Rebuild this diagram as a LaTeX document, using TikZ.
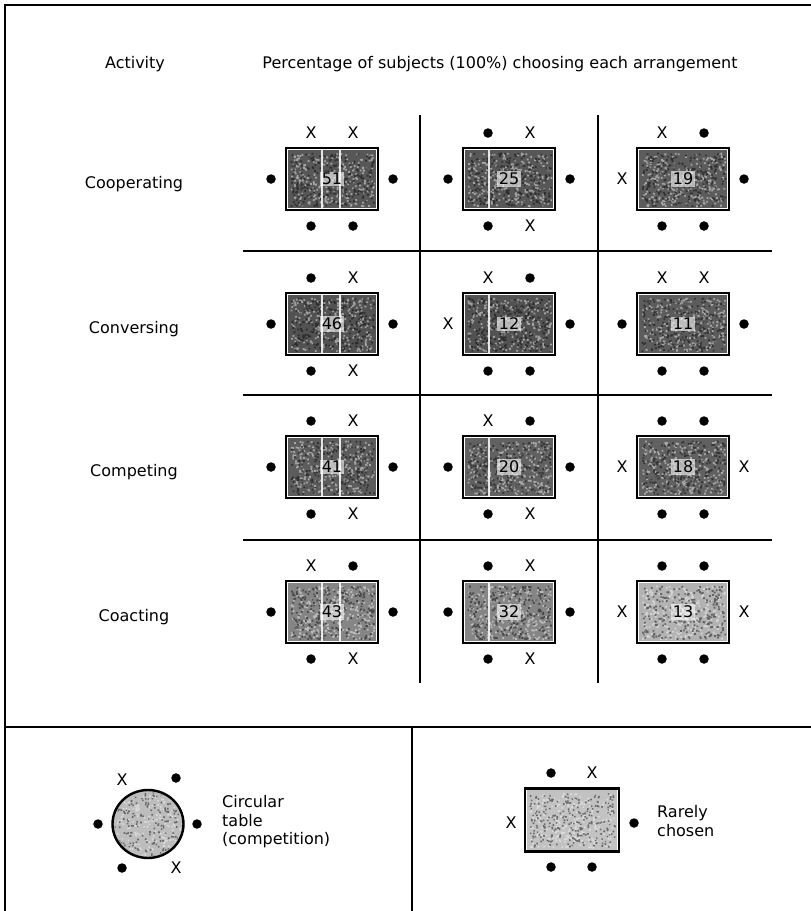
\documentclass[tikz,border=0pt]{standalone}
\usepackage{fontspec}
\setmainfont{DejaVu Sans}
\usetikzlibrary{shapes.geometric}
\begin{document}
\begin{tikzpicture}[x=1pt,y=-1pt,
  txt/.style={font=\fontsize{16}{18.5}\selectfont, inner sep=0pt},
  frame/.style={line width=2.8pt},
  gridline/.style={line width=1.6pt},
  tablebox/.style={draw, line width=2.6pt, fill=white, minimum width=92pt, minimum height=62pt, inner sep=0pt},
  stripe/.style={white, line width=2.4pt, opacity=0.85},
  lightspeck/.style={white, opacity=0.45},
  darkspeck/.style={black, opacity=0.45},
  numlbl/.style={txt, fill=white, fill opacity=0.6, text opacity=1, inner sep=1.5pt},
  seatX/.style={txt, node contents={X}},
  seatd/.style={circle, fill=black, inner sep=0pt, minimum size=9.5pt, node contents={}},
]
\pgfmathsetseed{4242}
\useasboundingbox (0,0) rectangle (811,911);
% outer frame and bottom partition
\draw[frame] (5,911) -- (5,5) -- (811,5);
\draw[frame] (5,727) -- (811,727);
\draw[gridline] (412,727) -- (412,911);

% headers
\node[txt, anchor=base] (activity) at (135,68) {Activity};
\node[txt, anchor=base] (percent) at (500,68) {Percentage of subjects (100\%) choosing each arrangement};

% grid
\draw[gridline] (420,115) -- (420,683);
\draw[gridline] (598,115) -- (598,683);
\foreach \yy in {251,395,540} \draw[gridline] (243,\yy) -- (772,\yy);

% row labels
\foreach \nm/\lab/\yy in {cooperating/Cooperating/179, conversing/Conversing/324, competing/Competing/467, coacting/Coacting/612}
  \node[txt, anchor=base] (\nm) at (134,\yy+9) {\lab};

% cells
\foreach \n/\k/\cx/\cy/\nr/\sh/\pa/\pb/\pc/\pd/\pe/\pf in {
  c11/1/332/179/51/66/X/X/d/d/d/d,
  c12/2/509/179/25/66/d/X/d/d/d/X,
  c13/3/683/179/19/64/X/d/X/d/d/d,
  c21/1/332/324/46/68/d/X/d/d/d/X,
  c22/2/509/324/12/68/X/d/X/d/d/d,
  c23/3/683/324/11/64/X/X/d/d/d/d,
  c31/1/332/467/41/64/d/X/d/d/d/X,
  c32/2/509/467/20/62/X/d/d/d/d/X,
  c33/3/683/467/18/62/d/d/X/X/d/d,
  c41/1/332/612/43/48/X/d/d/d/d/X,
  c42/2/509/612/32/48/d/X/d/d/d/X,
  c43/3/683/612/13/30/d/d/X/X/d/d}
{
  \node[tablebox] (\n) at (\cx,\cy) {};
  \fill[black!\sh] ([shift={(3,3)}]\n.north west) rectangle ([shift={(-3,-3)}]\n.south east);
  \fill[lightspeck] \foreach \i in {1,...,260} { (\cx+rand*41.5,\cy+rand*26.5) rectangle ++(1.8,1.8) };
  \fill[darkspeck] \foreach \i in {1,...,260} { (\cx+rand*41.5,\cy+rand*26.5) rectangle ++(1.8,1.8) };
  \ifnum\k=1
    \draw[stripe] ([xshift=-10pt,yshift=-3pt]\n.north) -- ([xshift=-10pt,yshift=3pt]\n.south);
    \draw[stripe] ([xshift=8pt,yshift=-3pt]\n.north) -- ([xshift=8pt,yshift=3pt]\n.south);
  \fi
  \ifnum\k=2
    \draw[stripe] ([xshift=-20pt,yshift=-3pt]\n.north) -- ([xshift=-20pt,yshift=3pt]\n.south);
  \fi
  \node[numlbl] (\n-num) at (\n.center) {\nr};
  \node (\n-tl) at (\cx-21,\cy-46) [seat\pa];
  \node (\n-tr) at (\cx+21,\cy-46) [seat\pb];
  \node (\n-l) at (\cx-61,\cy) [seat\pc];
  \node (\n-r) at (\cx+61,\cy) [seat\pd];
  \node (\n-bl) at (\cx-21,\cy+47) [seat\pe];
  \node (\n-br) at (\cx+21,\cy+47) [seat\pf];
}

% legend: circular table
\node[ellipse, draw, line width=2.4pt, fill=black!26, minimum width=71pt, minimum height=68pt, inner sep=0pt] (round) at (148,824) {};
\begin{scope}
  \clip (148,824) ellipse (33.5 and 32);
  \fill[lightspeck] \foreach \i in {1,...,200} { (148+rand*34,824+rand*33) rectangle ++(1.6,1.6) };
  \fill[darkspeck] \foreach \i in {1,...,200} { (148+rand*34,824+rand*33) rectangle ++(1.6,1.6) };
\end{scope}
\node (round-tl) at (122,780) [seatX];
\node (round-tr) at (176,778) [seatd];
\node (round-l) at (98,824) [seatd];
\node (round-r) at (197,824) [seatd];
\node (round-bl) at (122,868) [seatd];
\node (round-br) at (176,868) [seatX];
\node[txt, anchor=west, align=left] (roundtxt) at (222,822) {Circular\\table\\(competition)};

% legend: rarely chosen
\node[tablebox, minimum width=94pt, minimum height=63pt] (rare) at (572,820) {};
\fill[black!24] ([shift={(3,3)}]rare.north west) rectangle ([shift={(-3,-3)}]rare.south east);
\fill[lightspeck] \foreach \i in {1,...,260} { (572+rand*42.5,820+rand*27) rectangle ++(1.6,1.6) };
\fill[darkspeck] \foreach \i in {1,...,260} { (572+rand*42.5,820+rand*27) rectangle ++(1.6,1.6) };
\node (rare-tl) at (551,773) [seatd];
\node (rare-tr) at (592,773) [seatX];
\node (rare-l) at (511,823) [seatX];
\node (rare-r) at (634,823) [seatd];
\node (rare-bl) at (551,867) [seatd];
\node (rare-br) at (592,867) [seatd];
\node[txt, anchor=west, align=left] (raretxt) at (657,821) {Rarely\\chosen};
\end{tikzpicture}
\end{document}
